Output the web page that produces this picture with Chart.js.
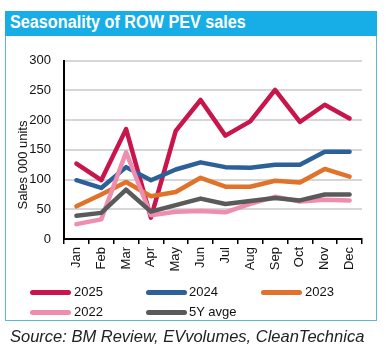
<!DOCTYPE html>
<html>
<head>
<meta charset="utf-8">
<script src="https://cdn.jsdelivr.net/npm/chart.js@4/dist/chart.umd.min.js"></script>
<style>
  html, body { margin:0; padding:0; background:#fff; width:386px; height:353px; overflow:hidden; font-family:"Liberation Sans", Arial, sans-serif; }
  #banner { position:absolute; left:5px; top:11px; width:372px; height:25px; background:#17ADE6; }
  #title { position:absolute; left:10px; top:12px; font-size:18px; font-weight:bold; color:#fff; white-space:nowrap; transform-origin:0 0; transform:scaleX(0.9); }
  #box { position:absolute; left:5px; top:36px; width:370px; height:284px; border:1px solid #5DB7D2; border-top:none; }
  #wrap { position:absolute; left:6px; top:40px; width:368px; height:236px; }
  #ytitle { position:absolute; left:22px; top:165px; font-size:13px; color:#111; white-space:nowrap; transform:translate(-50%,-50%) rotate(-90deg); }
  .sw { position:absolute; width:41px; height:5px; border-radius:3px; }
  .lt { position:absolute; font-size:13px; color:#111; white-space:nowrap; line-height:15px; }
  #source { position:absolute; left:10px; top:327px; font-size:16.5px; font-style:italic; color:#222; white-space:nowrap; transform-origin:0 0; transform:scaleX(1.0); }
</style>
</head>
<body>
<div id="banner"></div>
<div id="title">Seasonality of ROW PEV sales</div>
<div id="box"></div>
<div id="wrap"><canvas id="c" width="368" height="236"></canvas></div>
<div id="ytitle">Sales 000 units</div>
<div id="legend"></div>
<div id="source">Source: BM Review, EVvolumes, CleanTechnica</div>
<script>
const months = ["Jan","Feb","Mar","Apr","May","Jun","Jul","Aug","Sep","Oct","Nov","Dec"];
const yTicks = [0, 50, 100, 150, 200, 250, 300];
const s2025 = [127, 99, 185, 36, 182, 234, 174, 198, 251, 197, 226, 203];
const s2024 = [99, 86, 121, 99, 117, 129, 121, 120, 125, 125, 147, 147];
const s2023 = [55, 75, 96, 72, 79, 103, 88, 88, 98, 95, 118, 105];
const s2022 = [25, 33, 146, 40, 46, 47, 45, 59, 71, 63, 66, 65];
const s5y   = [39, 44, 83, 46, 57, 68, 59, 64, 69, 65, 75, 75];
const seriesNames = ["2025", "2024", "2023", "2022", "5Y avge"];
const seriesColors = ["#C8164C", "#2B6198", "#E0722A", "#EE8DAE", "#5A5A5A"];

const allData = [s2025, s2024, s2023, s2022, s5y];
const drawOrder = [4, 3, 2, 1, 0];

const datasets = drawOrder.map(i => ({
  label: seriesNames[i],
  data: allData[i],
  borderColor: seriesColors[i],
  backgroundColor: seriesColors[i],
  borderWidth: 4.5,
  pointRadius: 0,
  tension: 0,
  fill: false,
  borderJoinStyle: 'round',
  borderCapStyle: 'round'
}));

new Chart(document.getElementById('c'), {
  type: 'line',
  data: { labels: months, datasets },
  options: {
    responsive: false,
    animation: false,
    events: [],
    layout: { padding: { top: 18, right: 12, left: 0, bottom: 0 } },
    plugins: { legend: { display: false }, tooltip: { enabled: false }, title: { display: false } },
    scales: {
      x: {
        type: 'category',
        offset: true,
        grid: { offset: true, drawOnChartArea: false, drawTicks: true, tickLength: 5, color: '#000', lineWidth: 1.5 },
        border: { display: true, color: '#000', width: 2 },
        ticks: { color: '#111', font: { family: '"Liberation Sans", Arial, sans-serif', size: 13 }, minRotation: 90, maxRotation: 90, padding: 3, autoSkip: false },
        afterFit: (s) => { s.height = 37; }
      },
      y: {
        min: 0, max: 300,
        afterBuildTicks: (s) => { s.ticks = yTicks.map(v => ({ value: v })); },
        grid: { color: (ctx) => ctx.tick && ctx.tick.value === 0 ? 'rgba(0,0,0,0)' : '#D6D6D6', lineWidth: 2, drawTicks: false },
        border: { display: true, color: '#000', width: 2 },
        ticks: { color: '#111', font: { family: '"Liberation Sans", Arial, sans-serif', size: 13 }, padding: 13 },
        afterFit: (s) => { s.width = 58; }
      }
    }
  }
});

// HTML legend
const legendPos = [
  { sx: 30, tx: 74, y: 292 },
  { sx: 146, tx: 189, y: 292 },
  { sx: 261, tx: 305, y: 292 },
  { sx: 30, tx: 74, y: 312 },
  { sx: 146, tx: 189, y: 312 }
];
const lg = document.getElementById('legend');
seriesNames.forEach((name, i) => {
  const p = legendPos[i];
  const sw = document.createElement('div');
  sw.className = 'sw';
  sw.style.left = p.sx + 'px';
  sw.style.top = (p.y - 2.5) + 'px';
  sw.style.background = seriesColors[i];
  lg.appendChild(sw);
  const t = document.createElement('div');
  t.className = 'lt';
  t.style.left = p.tx + 'px';
  t.style.top = (p.y - 8) + 'px';
  t.textContent = name;
  lg.appendChild(t);
});
</script>
</body>
</html>
